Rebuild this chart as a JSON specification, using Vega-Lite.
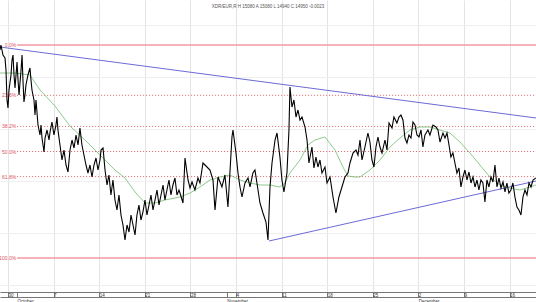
{
  "$schema": "https://vega.github.io/schema/vega-lite/v6.json",
  "width": 536,
  "height": 292,
  "padding": {"left": 0, "top": 0, "right": 0, "bottom": 10},
  "autosize": "none",
  "background": "white",
  "config": {"view": {"stroke": null}, "font": "Liberation Sans"},
  "title": {"text": "XDR/EUR,R H 15080 A 15080 L 14940 C 14950 -0.0023", "fontSize": 4.5, "fontWeight": "normal", "color": "#555555", "anchor": "middle", "offset": -8, "frame": "group"},
  "datasets": {
    "price": [
      {"t":-0.88,"p":1.525},{"t":-0.77,"p":1.5255},{"t":-0.55,"p":1.5245},{"t":-0.33,"p":1.5242},{"t":-0.22,"p":1.523},{"t":-0.11,"p":1.52},{"t":0,"p":1.5192},{"t":0.11,"p":1.521},{"t":0.33,"p":1.5225},{"t":0.44,"p":1.524},{"t":0.55,"p":1.5245},{"t":0.66,"p":1.5225},{"t":0.77,"p":1.5212},{"t":0.99,"p":1.5238},{"t":1.1,"p":1.522},{"t":1.21,"p":1.5205},{"t":1.43,"p":1.523},{"t":1.54,"p":1.5245},{"t":1.64,"p":1.522},{"t":1.75,"p":1.5198},{"t":1.86,"p":1.5205},{"t":1.97,"p":1.5215},{"t":2.19,"p":1.5225},{"t":2.41,"p":1.5232},{"t":2.52,"p":1.522},{"t":2.63,"p":1.521},{"t":2.85,"p":1.52},{"t":2.96,"p":1.5185},{"t":3.07,"p":1.52},{"t":3.29,"p":1.5175},{"t":3.51,"p":1.5165},{"t":3.62,"p":1.5175},{"t":3.73,"p":1.5162},{"t":3.95,"p":1.5148},{"t":4.06,"p":1.5162},{"t":4.28,"p":1.517},{"t":4.5,"p":1.516},{"t":4.61,"p":1.5168},{"t":4.82,"p":1.5178},{"t":5.04,"p":1.5165},{"t":5.26,"p":1.5175},{"t":5.37,"p":1.5183},{"t":5.48,"p":1.517},{"t":5.7,"p":1.5155},{"t":5.92,"p":1.514},{"t":6.14,"p":1.515},{"t":6.36,"p":1.5135},{"t":6.58,"p":1.5128},{"t":6.8,"p":1.515},{"t":7.02,"p":1.516},{"t":7.24,"p":1.5152},{"t":7.46,"p":1.5165},{"t":7.68,"p":1.5155},{"t":7.89,"p":1.5172},{"t":8.11,"p":1.5155},{"t":8.33,"p":1.5145},{"t":8.55,"p":1.5135},{"t":8.77,"p":1.5127},{"t":8.99,"p":1.5135},{"t":9.21,"p":1.5123},{"t":9.43,"p":1.5135},{"t":9.65,"p":1.5142},{"t":9.87,"p":1.513},{"t":10.09,"p":1.514},{"t":10.2,"p":1.515},{"t":10.42,"p":1.5152},{"t":10.64,"p":1.513},{"t":10.86,"p":1.5115},{"t":11.07,"p":1.5125},{"t":11.29,"p":1.5105},{"t":11.51,"p":1.512},{"t":11.73,"p":1.51},{"t":11.95,"p":1.509},{"t":12.17,"p":1.5105},{"t":12.39,"p":1.5085},{"t":12.61,"p":1.5075},{"t":12.83,"p":1.506},{"t":13.05,"p":1.5075},{"t":13.27,"p":1.5068},{"t":13.49,"p":1.5085},{"t":13.71,"p":1.5075},{"t":13.93,"p":1.5065},{"t":14.14,"p":1.5085},{"t":14.36,"p":1.5095},{"t":14.58,"p":1.508},{"t":14.8,"p":1.5088},{"t":15.02,"p":1.51},{"t":15.24,"p":1.5085},{"t":15.46,"p":1.5095},{"t":15.68,"p":1.5105},{"t":15.9,"p":1.509},{"t":16.12,"p":1.51},{"t":16.34,"p":1.511},{"t":16.56,"p":1.5095},{"t":16.78,"p":1.5105},{"t":17.0,"p":1.5115},{"t":17.21,"p":1.51},{"t":17.43,"p":1.511},{"t":17.65,"p":1.512},{"t":17.87,"p":1.5105},{"t":18.09,"p":1.5115},{"t":18.31,"p":1.5122},{"t":18.53,"p":1.5105},{"t":18.75,"p":1.511},{"t":18.86,"p":1.5107},{"t":19.19,"p":1.5097},{"t":19.41,"p":1.5142},{"t":19.74,"p":1.512},{"t":19.96,"p":1.5112},{"t":20.18,"p":1.5118},{"t":20.5,"p":1.511},{"t":20.83,"p":1.5122},{"t":21.05,"p":1.5117},{"t":21.38,"p":1.5137},{"t":21.82,"p":1.5133},{"t":22.15,"p":1.513},{"t":22.48,"p":1.512},{"t":22.7,"p":1.509},{"t":23.03,"p":1.5123},{"t":23.46,"p":1.5113},{"t":23.79,"p":1.5125},{"t":24.12,"p":1.5093},{"t":24.56,"p":1.5163},{"t":24.67,"p":1.517},{"t":25.0,"p":1.5147},{"t":25.22,"p":1.5127},{"t":25.44,"p":1.5113},{"t":25.66,"p":1.5103},{"t":25.99,"p":1.5117},{"t":26.32,"p":1.5122},{"t":26.54,"p":1.5113},{"t":26.86,"p":1.5127},{"t":27.08,"p":1.513},{"t":27.3,"p":1.5117},{"t":27.63,"p":1.5097},{"t":27.96,"p":1.5087},{"t":28.29,"p":1.5078},{"t":28.51,"p":1.506},{"t":28.73,"p":1.5113},{"t":28.95,"p":1.5137},{"t":29.28,"p":1.516},{"t":29.5,"p":1.5167},{"t":29.82,"p":1.5143},{"t":30.04,"p":1.512},{"t":30.26,"p":1.5108},{"t":30.59,"p":1.5127},{"t":30.81,"p":1.517},{"t":30.92,"p":1.5213},{"t":31.14,"p":1.5193},{"t":31.36,"p":1.52},{"t":31.58,"p":1.5183},{"t":31.8,"p":1.519},{"t":32.02,"p":1.518},{"t":32.24,"p":1.5183},{"t":32.57,"p":1.5173},{"t":32.79,"p":1.516},{"t":33.0,"p":1.5137},{"t":33.33,"p":1.5153},{"t":33.55,"p":1.5132},{"t":33.77,"p":1.5143},{"t":33.99,"p":1.5133},{"t":34.21,"p":1.514},{"t":34.43,"p":1.5127},{"t":34.76,"p":1.5133},{"t":34.98,"p":1.5117},{"t":35.31,"p":1.5123},{"t":35.64,"p":1.5103},{"t":35.96,"p":1.5087},{"t":36.29,"p":1.5103},{"t":36.62,"p":1.5113},{"t":36.95,"p":1.5123},{"t":37.28,"p":1.5127},{"t":37.5,"p":1.5137},{"t":37.83,"p":1.5147},{"t":38.16,"p":1.515},{"t":38.38,"p":1.5145},{"t":38.6,"p":1.516},{"t":38.82,"p":1.514},{"t":39.14,"p":1.5153},{"t":39.47,"p":1.5167},{"t":39.69,"p":1.5158},{"t":39.91,"p":1.514},{"t":40.13,"p":1.5133},{"t":40.35,"p":1.5153},{"t":40.57,"p":1.5163},{"t":40.79,"p":1.5153},{"t":41.01,"p":1.5147},{"t":41.34,"p":1.516},{"t":41.56,"p":1.515},{"t":41.78,"p":1.5177},{"t":42.11,"p":1.5172},{"t":42.32,"p":1.5183},{"t":42.65,"p":1.5177},{"t":42.87,"p":1.5183},{"t":43.09,"p":1.5185},{"t":43.31,"p":1.518},{"t":43.53,"p":1.5162},{"t":43.75,"p":1.5157},{"t":43.97,"p":1.5165},{"t":44.19,"p":1.5162},{"t":44.41,"p":1.5178},{"t":44.63,"p":1.5175},{"t":44.85,"p":1.5165},{"t":45.07,"p":1.5163},{"t":45.29,"p":1.517},{"t":45.5,"p":1.5153},{"t":45.72,"p":1.5165},{"t":46.05,"p":1.517},{"t":46.27,"p":1.5165},{"t":46.6,"p":1.5175},{"t":46.93,"p":1.5173},{"t":47.15,"p":1.517},{"t":47.37,"p":1.5158},{"t":47.7,"p":1.5167},{"t":47.92,"p":1.5162},{"t":48.14,"p":1.5167},{"t":48.36,"p":1.5155},{"t":48.57,"p":1.5143},{"t":48.79,"p":1.5147},{"t":49.01,"p":1.5137},{"t":49.23,"p":1.5127},{"t":49.45,"p":1.5132},{"t":49.67,"p":1.5113},{"t":49.89,"p":1.5123},{"t":50.11,"p":1.513},{"t":50.33,"p":1.512},{"t":50.55,"p":1.5128},{"t":50.77,"p":1.5117},{"t":50.99,"p":1.5123},{"t":51.21,"p":1.5113},{"t":51.43,"p":1.512},{"t":51.64,"p":1.511},{"t":51.86,"p":1.512},{"t":52.08,"p":1.5117},{"t":52.3,"p":1.5098},{"t":52.52,"p":1.512},{"t":52.74,"p":1.5113},{"t":52.96,"p":1.5123},{"t":53.18,"p":1.5118},{"t":53.4,"p":1.5135},{"t":53.62,"p":1.5113},{"t":53.84,"p":1.5122},{"t":54.06,"p":1.5112},{"t":54.28,"p":1.5118},{"t":54.5,"p":1.5108},{"t":54.71,"p":1.5117},{"t":54.93,"p":1.5107},{"t":55.15,"p":1.511},{"t":55.37,"p":1.5117},{"t":55.59,"p":1.5103},{"t":55.81,"p":1.5093},{"t":56.03,"p":1.509},{"t":56.25,"p":1.5085},{"t":56.47,"p":1.5103},{"t":56.69,"p":1.511},{"t":56.91,"p":1.5105},{"t":57.13,"p":1.5117},{"t":57.35,"p":1.5113},{"t":57.57,"p":1.512},{"t":57.89,"p":1.5122}
    ],
    "ma": [
      {"t":-0.88,"p":1.5227},{"t":0.77,"p":1.5227},{"t":2.41,"p":1.5225},{"t":3.51,"p":1.521},{"t":5.15,"p":1.5194},{"t":6.8,"p":1.5174},{"t":8.44,"p":1.516},{"t":10.09,"p":1.5145},{"t":11.73,"p":1.513},{"t":12.83,"p":1.5122},{"t":13.93,"p":1.5108},{"t":15.02,"p":1.5097},{"t":16.12,"p":1.5097},{"t":17.21,"p":1.51},{"t":18.31,"p":1.5102},{"t":18.86,"p":1.5103},{"t":19.96,"p":1.5107},{"t":21.05,"p":1.5113},{"t":22.15,"p":1.512},{"t":23.25,"p":1.5123},{"t":24.34,"p":1.5125},{"t":25.44,"p":1.512},{"t":26.54,"p":1.5117},{"t":27.63,"p":1.5115},{"t":28.73,"p":1.5115},{"t":29.82,"p":1.5113},{"t":30.37,"p":1.5117},{"t":30.92,"p":1.5127},{"t":32.02,"p":1.514},{"t":32.89,"p":1.5155},{"t":33.66,"p":1.516},{"t":34.76,"p":1.5163},{"t":35.86,"p":1.515},{"t":36.73,"p":1.5133},{"t":37.28,"p":1.5124},{"t":38.05,"p":1.5123},{"t":38.6,"p":1.5123},{"t":39.69,"p":1.513},{"t":40.79,"p":1.514},{"t":41.89,"p":1.5153},{"t":42.98,"p":1.5162},{"t":44.08,"p":1.517},{"t":45.18,"p":1.5173},{"t":46.27,"p":1.5173},{"t":47.37,"p":1.517},{"t":48.46,"p":1.5167},{"t":49.56,"p":1.5158},{"t":50.66,"p":1.5147},{"t":51.75,"p":1.5135},{"t":52.85,"p":1.5123},{"t":53.95,"p":1.5115},{"t":55.04,"p":1.5112},{"t":56.14,"p":1.511},{"t":57.24,"p":1.5113},{"t":57.89,"p":1.5115}
    ],
    "trend": [
      {"line":"upper","t":-0.877,"p":1.5253},{"line":"upper","t":57.9,"p":1.5182},
      {"line":"lower","t":28.62,"p":1.5059},{"line":"lower","t":57.9,"p":1.5119}
    ],
    "fib": [
      {"level":"0.0%","p":1.5255,"kind":"bound"},
      {"level":"23.6%","p":1.52047,"kind":"retracement"},
      {"level":"38.2%","p":1.51736,"kind":"retracement"},
      {"level":"50.0%","p":1.51485,"kind":"retracement"},
      {"level":"61.8%","p":1.51234,"kind":"retracement"},
      {"level":"100.0%","p":1.5042,"kind":"bound"}
    ]
  },
  "resolve": {"axis": {"x": "independent"}},
  "layer": [
    {
      "data": {"name": "fib"},
      "mark": {"type": "rule"},
      "encoding": {
        "x": {"datum": 1, "type": "quantitative", "axis": null},
        "x2": {"datum": 57.9},
        "y": {"field": "p", "type": "quantitative", "scale": {"domain": [1.5008, 1.53], "nice": false, "zero": false},
              "axis": {"values": [1.5288,1.5275,1.5262,1.5249,1.5236,1.5223,1.521,1.5197,1.5184,1.5171,1.5158,1.5145,1.5132,1.5119,1.5106,1.5093,1.508,1.5067,1.5054,1.5041,1.5028,1.5015], "grid": true, "gridColor": "#efefef", "gridWidth": 1, "labels": false, "ticks": false, "domain": false, "title": null}},
        "color": {"field": "kind", "type": "nominal", "legend": null, "scale": {"domain": ["bound","retracement"], "range": ["#f49aa4","#e0606e"]}},
        "strokeWidth": {"field": "kind", "type": "nominal", "legend": null, "scale": {"domain": ["bound","retracement"], "range": [1.6, 1]}},
        "strokeDash": {"field": "kind", "type": "nominal", "legend": null, "scale": {"domain": ["bound","retracement"], "range": [[1,0],[1,2]]}}
      }
    },
    {
      "data": {"name": "fib"},
      "mark": {"type": "text", "align": "right", "baseline": "middle", "fontSize": 5, "color": "#e0505e"},
      "encoding": {
        "x": {"datum": 0.9, "type": "quantitative", "axis": null},
        "y": {"field": "p", "type": "quantitative"},
        "text": {"field": "level"}
      }
    },
    {
      "data": {"name": "trend"},
      "mark": {"type": "line", "color": "#6b6bd6", "strokeWidth": 1},
      "encoding": {
        "x": {"field": "t", "type": "quantitative",
              "axis": {"orient": "bottom", "values": [0,5,10,15,20,25,30,35,40,45,50,55], "grid": true, "gridColor": "#e4e4e4", "gridWidth": 1, "labels": false, "ticks": false, "domain": false, "title": null}},
        "y": {"field": "p", "type": "quantitative"},
        "detail": {"field": "line"}
      }
    },
    {
      "data": {"name": "ma"},
      "mark": {"type": "line", "color": "#7fc47f", "strokeWidth": 0.9},
      "encoding": {
        "x": {"field": "t", "type": "quantitative",
              "axis": {"orient": "bottom", "values": [0,5,10,15,20,25,30,35,40,45,50,55], "grid": false, "labels": false, "ticks": false, "domain": true, "domainColor": "#777777", "offset": 5, "title": null}},
        "y": {"field": "p", "type": "quantitative"}
      }
    },
    {
      "data": {"name": "price"},
      "mark": {"type": "line", "color": "#000000", "strokeWidth": 1.1},
      "encoding": {
        "x": {"field": "t", "type": "quantitative", "scale": {"domain": [-0.877, 57.9], "nice": false, "zero": false},
              "axis": {"orient": "bottom", "values": [0,1,5,10,15,20,24,25,30,35,40,45,50,55], "grid": false, "domain": true, "domainColor": "#777777", "ticks": true, "tickSize": 5, "tickColor": "#777777", "title": null,
                       "labelExpr": "[['30'],['','October'],['7'],['14'],['21'],['28'],['','November'],['4'],['11'],['18'],['25'],['2','December'],['9'],['16']][indexof([0,1,5,10,15,20,24,25,30,35,40,45,50,55], datum.value)]",
                       "labelAlign": "left", "labelBaseline": "top", "labelPadding": -4.5, "labelFontSize": 4.5, "labelLineHeight": 5.5, "labelColor": "#333333", "labelOverlap": false, "labelBound": false, "labelFlush": false, "labelDx": 1.2}},
        "y": {"field": "p", "type": "quantitative"}
      }
    }
  ]
}
